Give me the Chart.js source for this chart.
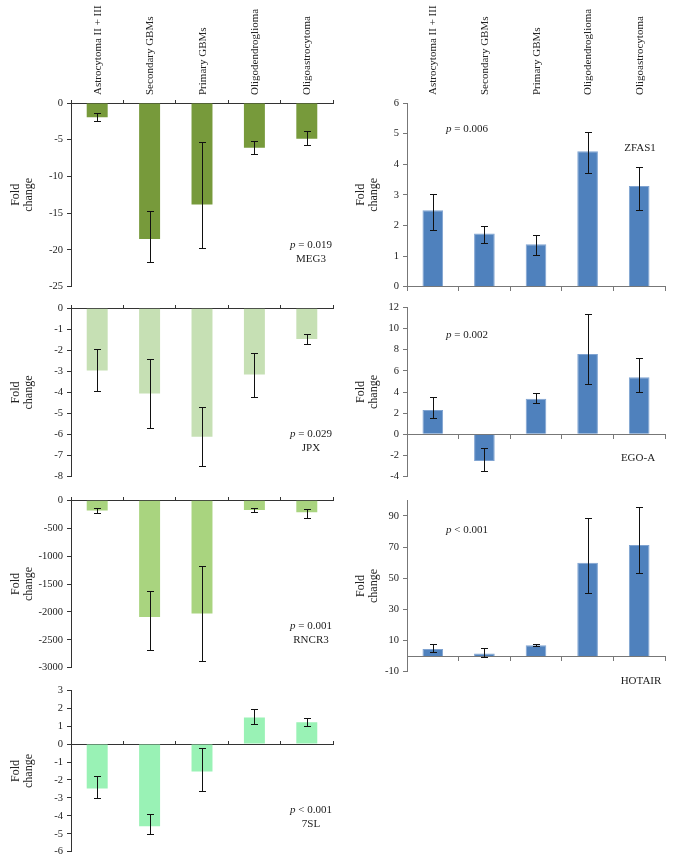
<!DOCTYPE html>
<html>
<head>
<meta charset="utf-8">
<script src="https://cdn.jsdelivr.net/npm/chart.js@4.4.1/dist/chart.umd.min.js"></script>
<style>
  body { margin: 0; width: 673px; height: 861px; background: #fff; position: relative; overflow: hidden;
         font-family: "Liberation Serif", "DejaVu Serif", serif; color: #222; }
  canvas { position: absolute; }
  .note { position: absolute; width: 90px; margin-left: -45px; text-align: center; font-size: 11px;
          line-height: 14px; white-space: nowrap; }
  .note i { font-style: italic; }
</style>
</head>
<body>
<script>
// categories (same for every panel)
const categories = ["Astrocytoma II + III", "Secondary GBMs", "Primary GBMs", "Oligodendroglioma", "Oligoastrocytoma"];

// MEG3
const meg3Values = [-1.95, -18.5, -13.8, -6.1, -4.85];
const meg3Hi = [-1.36, -14.7, -5.3, -5.2, -3.8];
const meg3Lo = [-2.45, -21.6, -19.7, -6.9, -5.7];
const meg3Ticks = [0, -5, -10, -15, -20, -25];

// JPX
const jpxValues = [-2.95, -4.05, -6.1, -3.15, -1.46];
const jpxHi = [-1.95, -2.39, -4.7, -2.1, -1.24];
const jpxLo = [-3.91, -5.69, -7.49, -4.21, -1.68];
const jpxTicks = [0, -1, -2, -3, -4, -5, -6, -7, -8];

// RNCR3
const rncr3Values = [-185, -2090, -2030, -173, -214];
const rncr3Hi = [-137, -1631, -1185, -131, -149];
const rncr3Lo = [-232, -2690, -2875, -214, -321];
const rncr3Ticks = [0, -500, -1000, -1500, -2000, -2500, -3000];

// 7SL
const sl7Values = [-2.47, -4.58, -1.53, 1.48, 1.22];
const sl7Hi = [-1.77, -3.9, -0.22, 1.96, 1.46];
const sl7Lo = [-3.03, -5.04, -2.59, 1.12, 1.03];
const sl7Ticks = [3, 2, 1, 0, -1, -2, -3, -4, -5, -6];

// ZFAS1
const zfas1Values = [2.5, 1.74, 1.39, 4.42, 3.29];
const zfas1Hi = [3.02, 1.98, 1.68, 5.04, 3.91];
const zfas1Lo = [1.86, 1.43, 1.04, 3.72, 2.51];
const zfas1Ticks = [0, 1, 2, 3, 4, 5, 6];

// EGO-A
const egoaValues = [2.3, -2.52, 3.37, 7.59, 5.39];
const egoaHi = [3.55, -1.33, 3.9, 11.37, 7.24];
const egoaLo = [1.54, -3.47, 2.93, 4.75, 4.03];
const egoaTicks = [-4, -2, 0, 2, 4, 6, 8, 10, 12];

// HOTAIR
const hotairValues = [4.5, 1.7, 7.0, 59.9, 71.3];
const hotairHi = [7.6, 5.5, 7.8, 88.5, 96];
const hotairLo = [2.9, -0.7, 6.4, 40.5, 53.5];
const hotairTicks = [-10, 10, 30, 50, 70, 90];

const serif = "'Liberation Serif', 'DejaVu Serif', serif";

// error bars drawn through the chart scales
const errorBars = {
  id: "errorBars",
  afterDatasetsDraw(chart, args, opts) {
    const ctx = chart.ctx, x = chart.scales.x, y = chart.scales.y;
    ctx.save();
    ctx.strokeStyle = "#111";
    ctx.lineWidth = 1;
    opts.hi.forEach(function (h, i) {
      const px = Math.round(x.getPixelForValue(i)) + 0.5;
      const y1 = Math.round(y.getPixelForValue(h)) + 0.5;
      const y2 = Math.round(y.getPixelForValue(opts.lo[i])) + 0.5;
      ctx.beginPath();
      ctx.moveTo(px, y1); ctx.lineTo(px, y2);
      ctx.moveTo(px - 3.5, y1); ctx.lineTo(px + 3.5, y1);
      ctx.moveTo(px - 3.5, y2); ctx.lineTo(px + 3.5, y2);
      ctx.stroke();
    });
    ctx.restore();
  }
};

function panel(o) {
  const cv = document.createElement("canvas");
  const canvasTop = o.cats ? 0 : o.top - 10;
  cv.width = o.right + 6 - o.left;
  cv.height = o.bottom + 10 - canvasTop;
  cv.style.left = o.left + "px";
  cv.style.top = canvasTop + "px";
  document.body.appendChild(cv);

  const scales = {
    x: {
      type: "category",
      position: { y: 0 },
      offset: true,
      grid: { display: true, drawOnChartArea: false, offset: true, tickLength: o.up ? -4 : 4, color: o.axis },
      border: { display: true, color: o.axis },
      ticks: { display: false }
    },
    y: {
      min: o.min,
      max: o.max,
      afterBuildTicks: function (s) { s.ticks = o.ticks.map(function (v) { return { value: v }; }); },
      afterFit: function (s) { s.width = o.axisX - o.left; },
      grid: { drawOnChartArea: false, tickLength: 4, color: o.axis },
      border: { color: o.axis },
      ticks: { padding: 4, color: "#222", font: { family: serif, size: 10.5 },
               callback: function (v) { return String(v); } },
      title: { display: true, text: ["Fold", "change"], color: "#222", padding: { top: 9.5, bottom: 0 },
               font: { family: serif, size: 12, lineHeight: 13 / 12 } }
    }
  };
  if (o.cats) {
    scales.x2 = {
      type: "category",
      position: "top",
      offset: true,
      grid: { display: false },
      border: { display: false },
      afterFit: function (s) { s.height = o.top; },
      ticks: { minRotation: 90, maxRotation: 90, autoSkip: false, padding: 0, labelOffset: 14, color: "#222",
               font: { family: serif, size: 11 } }
    };
  }

  new Chart(cv, {
    type: "bar",
    data: {
      labels: categories,
      datasets: [{
        data: o.values,
        backgroundColor: o.color,
        borderColor: o.border || o.color,
        borderWidth: o.border ? 1 : 0,
        categoryPercentage: 1,
        barPercentage: 0.4
      }]
    },
    options: {
      responsive: false,
      animation: false,
      devicePixelRatio: 1,
      layout: { padding: { left: 0, right: 6, top: o.cats ? 0 : 10, bottom: 10 } },
      plugins: { legend: { display: false }, tooltip: { enabled: false }, errorBars: { hi: o.hi, lo: o.lo } },
      scales: scales
    },
    plugins: [errorBars]
  });
}

function note(x, y, html) {
  const d = document.createElement("div");
  d.className = "note";
  d.style.left = x + "px";
  d.style.top = (y - 7) + "px";
  d.innerHTML = html;
  document.body.appendChild(d);
}

// left column
panel({ left: 0, axisX: 71, right: 333, top: 103, bottom: 287, min: -25, max: 0, ticks: meg3Ticks,
        values: meg3Values, hi: meg3Hi, lo: meg3Lo, color: "#779a3b", axis: "#333", up: true, cats: true });
panel({ left: 0, axisX: 71, right: 333, top: 308, bottom: 477, min: -8, max: 0, ticks: jpxTicks,
        values: jpxValues, hi: jpxHi, lo: jpxLo, color: "#c6e0b4", axis: "#333", up: true });
panel({ left: 0, axisX: 71, right: 333, top: 500, bottom: 668, min: -3000, max: 0, ticks: rncr3Ticks,
        values: rncr3Values, hi: rncr3Hi, lo: rncr3Lo, color: "#a9d47f", axis: "#333", up: true });
panel({ left: 0, axisX: 71, right: 333, top: 690, bottom: 852, min: -6, max: 3, ticks: sl7Ticks,
        values: sl7Values, hi: sl7Hi, lo: sl7Lo, color: "#99f2b5", axis: "#333", up: true });

// right column
panel({ left: 345, axisX: 407, right: 665, top: 103, bottom: 287, min: 0, max: 6, ticks: zfas1Ticks,
        values: zfas1Values, hi: zfas1Hi, lo: zfas1Lo, color: "#4f81bd", border: "#7fa3d1", axis: "#777", cats: true });
panel({ left: 345, axisX: 407, right: 665, top: 307, bottom: 477, min: -4, max: 12, ticks: egoaTicks,
        values: egoaValues, hi: egoaHi, lo: egoaLo, color: "#4f81bd", border: "#7fa3d1", axis: "#777" });
panel({ left: 345, axisX: 407, right: 665, top: 500, bottom: 672, min: -10, max: 100, ticks: hotairTicks,
        values: hotairValues, hi: hotairHi, lo: hotairLo, color: "#4f81bd", border: "#7fa3d1", axis: "#777" });

// p-values and gene names
note(311, 244, "<i>p</i> = 0.019"); note(311, 258, "MEG3");
note(311, 433, "<i>p</i> = 0.029"); note(311, 447, "JPX");
note(311, 625, "<i>p</i> = 0.001"); note(311, 639, "RNCR3");
note(311, 809, "<i>p</i> &lt; 0.001"); note(311, 823, "7SL");
note(467, 128, "<i>p</i> = 0.006"); note(640, 147, "ZFAS1");
note(467, 334, "<i>p</i> = 0.002"); note(638, 457, "EGO-A");
note(467, 529, "<i>p</i> &lt; 0.001"); note(641, 680, "HOTAIR");
</script>
</body>
</html>
